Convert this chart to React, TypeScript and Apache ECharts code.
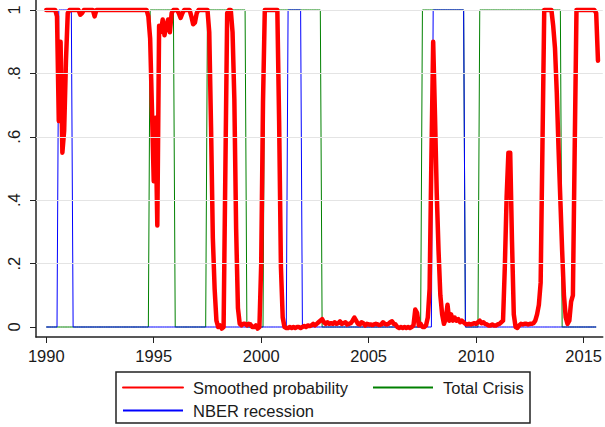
import React, { useEffect, useRef } from "react";
import * as echarts from "echarts";

const START_YEAR = 1990;

// Smoothed probability, monthly from Jan 1990 (one row per year)
const smoothedProbability: number[] = [
  // 1990
  1, 1, 1, 1, 1, 1, 0.98, 0.65, 0.9, 0.55, 0.62, 0.84,
  // 1991
  0.99, 1, 1, 1, 1, 1, 1, 0.985, 0.99, 1, 1, 1,
  // 1992
  1, 1, 1, 0.98, 1, 1, 1, 1, 1, 1, 1, 1,
  // 1993
  1, 1, 1, 1, 1, 1, 1, 1, 1, 1, 1, 1,
  // 1994
  1, 1, 1, 1, 1, 1, 1, 1, 1, 0.98, 0.91, 0.69,
  // 1995
  0.46, 0.66, 0.32, 0.95, 0.93, 0.97, 0.92, 0.95, 0.97, 0.93, 0.99, 1,
  // 1996
  1, 1, 0.99, 0.975, 0.99, 1, 1, 1, 1, 0.98, 0.955, 0.96,
  // 1997
  0.99, 1, 1, 1, 1, 1, 1, 0.93, 0.63, 0.28, 0.12, 0.02,
  // 1998
  0, 0.005, -0.005, 0, 0.5, 0.99, 1, 1, 0.93, 0.72, 0.31, 0.06,
  // 1999
  0.01, 0.005, 0.01, 0.01, 0.005, 0.01, 0.008, 0, 0, 0.005, -0.005, 0,
  // 2000
  0.2, 0.71, 1, 1, 1, 1, 1, 1, 1, 1, 0.65, 0.19,
  // 2001
  0.03, 0, -0.003, -0.003, 0, -0.003, 0, -0.003, 0, 0, -0.003, 0,
  // 2002
  0.003, 0, 0.005, 0.003, 0.005, 0.01, 0.005, 0.01, 0.015, 0.02, 0.025, 0.015,
  // 2003
  0.01, 0.015, 0.01, 0.012, 0.01, 0.015, 0.01, 0.012, 0.018, 0.01, 0.012, 0.015,
  // 2004
  0.008, 0.01, 0.012, 0.02, 0.03, 0.02, 0.01, 0.008, 0.015, 0.012, 0.005, 0.01,
  // 2005
  0.008, 0.008, 0.006, 0.008, 0.01, 0.008, 0.006, 0.008, 0.015, 0.01, 0.008, 0.01,
  // 2006
  0.015, 0.018, 0.01, 0.008, 0, -0.003, 0, -0.003, 0, -0.003, 0, -0.003,
  // 2007
  0, 0.005, 0.055, 0.045, 0.005, 0.01, 0, 0, 0.005, 0.03, 0.12, 0.53,
  // 2008
  0.9, 0.67, 0.42, 0.24, 0.1, 0.04, 0.01, 0.025, 0.07, 0.02, 0.04, 0.02,
  // 2009
  0.03, 0.02, 0.025, 0.015, 0.02, 0.015, 0.01, 0.008, 0.01, 0.008, 0.01, 0.012,
  // 2010
  0.01, 0.015, 0.02, 0.012, 0.015, 0.01, 0.008, 0.005, 0.005, 0.008, 0.005, 0.005,
  // 2011
  0.008, 0.01, 0.015, 0.02, 0.19, 0.41, 0.55, 0.55, 0.27, 0.04, 0, -0.003,
  // 2012
  0.005, 0.01, 0.008, 0.01, 0.01, 0.008, 0.01, 0.01, 0.012, 0.02, 0.04, 0.07,
  // 2013
  0.14, 0.57, 1, 1, 1, 1, 1, 0.95, 0.88, 0.74, 0.56, 0.4,
  // 2014
  0.24, 0.1, 0.03, 0.01, 0.02, 0.08, 0.1, 0.56, 1, 1, 1, 1,
  // 2015
  1, 1, 1, 1, 1, 1, 1, 0.99, 0.84,
];

// Periods (first month, last month) where the indicator equals 1
const nberRecessions: [string, string][] = [
  ["1990-08", "1991-03"],
  ["2001-04", "2001-11"],
  ["2008-01", "2009-06"],
];
const totalCrisis: [string, string][] = [
  ["1994-11", "1995-12"],
  ["1997-07", "1999-04"],
  ["2000-03", "2002-10"],
  ["2007-07", "2009-06"],
  ["2010-03", "2013-12"],
];
const indicatorLastMonth = "2015-08";

const xTicks = [1990, 1995, 2000, 2005, 2010, 2015];
const yTicks = [0, 0.2, 0.4, 0.6, 0.8, 1];
const yTickLabels = ["0", ".2", ".4", ".6", ".8", "1"];
const gridLevels = [0.2, 0.4, 0.6, 0.8, 1];

const NAME_SMOOTH = "Smoothed probability";
const NAME_CRISIS = "Total Crisis";
const NAME_NBER = "NBER recession";

const monthIndex = (ym: string) => {
  const [y, m] = ym.split("-").map(Number);
  return (y - START_YEAR) * 12 + (m - 1);
};
const timeOf = (i: number) => START_YEAR + i / 12;

const indicatorSeries = (periods: [string, string][]) => {
  const last = monthIndex(indicatorLastMonth);
  const out: [number, number][] = [];
  for (let i = 0; i <= last; i++) {
    const on = periods.some(([a, b]) => i >= monthIndex(a) && i <= monthIndex(b));
    out.push([timeOf(i), on ? 1 : 0]);
  }
  return out;
};

const FONT = "'Liberation Sans', Arial, sans-serif";
const TEXT = "#1a1a1a";
const AXIS = "#222";

const legendCommon = {
  orient: "vertical",
  top: 379,
  padding: 0,
  itemGap: 6,
  itemWidth: 60,
  itemHeight: 14,
  selectedMode: false,
  itemStyle: { opacity: 0, borderWidth: 0 },
  textStyle: { fontSize: 16.5, fontFamily: FONT, color: TEXT, padding: [0, 0, 0, 5] },
};

export default function App() {
  const ref = useRef<HTMLDivElement>(null);
  useEffect(() => {
    if (!ref.current) return;
    const chart = echarts.init(ref.current, undefined, { renderer: "svg" });
    const smooth = smoothedProbability.map((v, i) => [timeOf(i), v]);
    chart.setOption({
      animation: false,
      backgroundColor: "#ffffff",
      grid: { left: 36, right: 0, top: 0, bottom: 90, containLabel: false },
      xAxis: {
        type: "value",
        min: 1989.523,
        max: 2015.89,
        axisLine: { show: true, onZero: false, lineStyle: { color: AXIS, width: 1.5 } },
        axisTick: { show: true, customValues: xTicks, length: 6, lineStyle: { color: AXIS, width: 1 } },
        axisLabel: {
          customValues: xTicks,
          formatter: (v: number) => String(v),
          margin: 10,
          fontSize: 16.5,
          fontFamily: FONT,
          color: TEXT,
        },
        splitLine: { show: false },
      },
      yAxis: {
        type: "value",
        min: -0.0315,
        max: 1.0315,
        axisLine: { show: true, onZero: false, lineStyle: { color: AXIS, width: 1.5 } },
        axisTick: { show: true, customValues: yTicks, length: 6, lineStyle: { color: AXIS, width: 1 } },
        axisLabel: {
          customValues: yTicks,
          rotate: 90,
          formatter: (v: number) => {
            const k = yTicks.findIndex((t) => Math.abs(t - v) < 1e-9);
            return k >= 0 ? yTickLabels[k] : String(v);
          },
          margin: 14,
          fontSize: 16.5,
          fontFamily: FONT,
          color: TEXT,
        },
        splitLine: { show: false },
      },
      legend: [
        { ...legendCommon, data: [NAME_SMOOTH, NAME_NBER], left: 122 },
        { ...legendCommon, data: [NAME_CRISIS], left: 372 },
      ],
      graphic: [
        {
          type: "rect",
          silent: true,
          shape: { x: 116, y: 372, width: 414, height: 51 },
          style: { fill: "none", stroke: AXIS, lineWidth: 1.5 },
        },
      ],
      series: [
        {
          name: "grid",
          type: "line",
          data: [],
          z: 1,
          silent: true,
          markLine: {
            silent: true,
            symbol: "none",
            label: { show: false },
            lineStyle: { color: "#e4e4e4", width: 1, type: "solid" },
            data: gridLevels.map((v) => ({ yAxis: v })),
          },
        },
        {
          name: NAME_CRISIS,
          type: "line",
          data: indicatorSeries(totalCrisis),
          showSymbol: false,
          symbol: "none",
          z: 2,
          lineStyle: { color: "#008000", width: 1 },
          itemStyle: { color: "#008000" },
        },
        {
          name: NAME_NBER,
          type: "line",
          data: indicatorSeries(nberRecessions),
          showSymbol: false,
          symbol: "none",
          z: 3,
          lineStyle: { color: "#0000ff", width: 1 },
          itemStyle: { color: "#0000ff" },
        },
        {
          name: NAME_SMOOTH,
          type: "line",
          data: smooth,
          showSymbol: false,
          symbol: "none",
          z: 4,
          lineStyle: { color: "#ff0000", width: 4.5, join: "round", cap: "round" },
          itemStyle: { color: "#ff0000" },
        },
      ],
    });
    return () => chart.dispose();
  }, []);
  return (
    <div
      ref={ref}
      style={{ position: "absolute", left: 0, top: 0, width: 605, height: 427, background: "#fff" }}
    />
  );
}
